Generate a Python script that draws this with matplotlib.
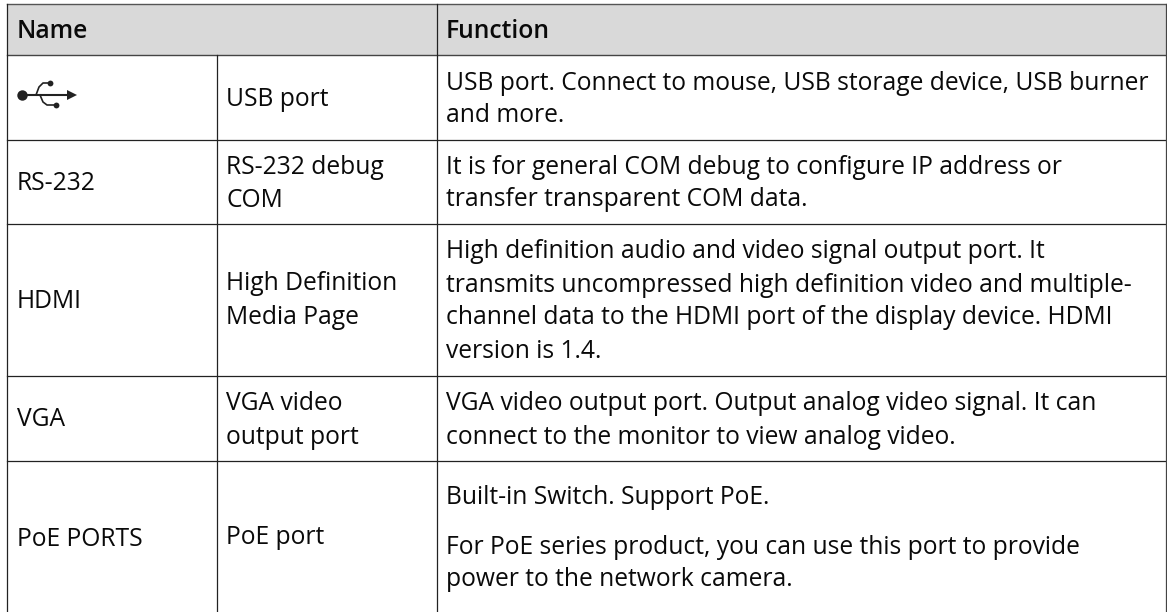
import numpy as np
import matplotlib
matplotlib.use("Agg")
import matplotlib.pyplot as plt

FONT = "Open Sans"
SIZE = 17.75

headers = ["Name", "Function"]
col_names = ["", "RS-232", "HDMI", "VGA", "PoE PORTS"]
col_names_y = [0, 189.5, 308.5, 426.5, 545.5]
col_ports = [["USB port"], ["RS-232 debug", "COM"], ["High Definition", "Media Page"],
             ["VGA video", "output port"], ["PoE port"]]
col_ports_y = [[106.5], [173.5, 207], [289.5, 324.5], [410.5, 443.5], [544.5]]
col_funcs = [
    ["USB port. Connect to mouse, USB storage device, USB burner", "and more."],
    ["It is for general COM debug to configure IP address or", "transfer transparent COM data."],
    ["High definition audio and video signal output port. It",
     "transmits uncompressed high definition video and multiple-",
     "channel data to the HDMI port of the display device. HDMI",
     "version is 1.4."],
    ["VGA video output port. Output analog video signal. It can",
     "connect to the monitor to view analog video."],
    ["Built-in Switch. Support PoE.",
     "For PoE series product, you can use this port to provide",
     "power to the network camera."],
]
col_funcs_y = [[89.5, 122.5], [173.5, 206.5], [258.5, 291.5, 324.5, 358.5], [410.5, 443.5],
               [503.5, 553.5, 586.5]]

row_lines = [140, 224, 376, 461]
x_left, x_mid, x_func, x_right = 7, 216.5, 436.5, 1166
y_top, y_head = 4, 55


def put(ax, x, y, s, **kw):
    ax.text(x, y, s, family=FONT, fontsize=SIZE, color="#0a0a0a", va="baseline", ha="left", **kw)


fig = plt.figure(figsize=(11.67, 6.12), dpi=100)
ax = fig.add_axes([0, 0, 1, 1])
ax.set_xlim(0, 1167)
ax.set_ylim(612, 0)
ax.axis("off")

# header band
ax.fill_between([x_left, x_right], y_top, y_head, color="#d9d9d9", lw=0)
ax.plot([x_left, x_right], [y_top, y_top], color="#555555", lw=1.0)
ax.plot([x_left, x_right], [y_head, y_head], color="#444444", lw=1.0)

# grid
for y in row_lines:
    ax.plot([x_left, x_right], [y, y], color="#222222", lw=0.9)
ax.plot([x_left, x_left], [y_top, 612], color="#222222", lw=0.9)
ax.plot([x_right, x_right], [y_top, 612], color="#444444", lw=0.9)
ax.plot([x_mid, x_mid], [y_head, 612], color="#222222", lw=0.9)
ax.plot([x_func, x_func], [y_top, 612], color="#222222", lw=0.9)

put(ax, 17, 37.5, headers[0], fontweight="semibold")
put(ax, 446, 37.5, headers[1], fontweight="semibold")

for s, y in zip(col_names, col_names_y):
    if s:
        put(ax, 17, y, s)
for lines, ys in zip(col_ports, col_ports_y):
    for s, y in zip(lines, ys):
        put(ax, 226, y, s)
for lines, ys in zip(col_funcs, col_funcs_y):
    for s, y in zip(lines, ys):
        put(ax, 446, y, s)

# usb symbol
k = "#222222"
ax.plot([22, 70], [95, 95], color=k, lw=1.5)
ax.plot(22, 95, "o", color=k, ms=7.5, mew=0)
ax.plot(71.5, 95, ">", color=k, ms=7, mew=0)
ax.plot([36, 39, 43, 50], [95, 87, 83, 83], color=k, lw=1.2)
ax.plot(50, 83, "o", color=k, ms=4.2, mew=0)
ax.plot([40, 43, 47, 56], [95, 102, 105, 105], color=k, lw=1.2)
ax.plot(56, 105, "o", color=k, ms=4.2, mew=0)

fig.savefig("out.png", dpi=100)
plt.close(fig)
